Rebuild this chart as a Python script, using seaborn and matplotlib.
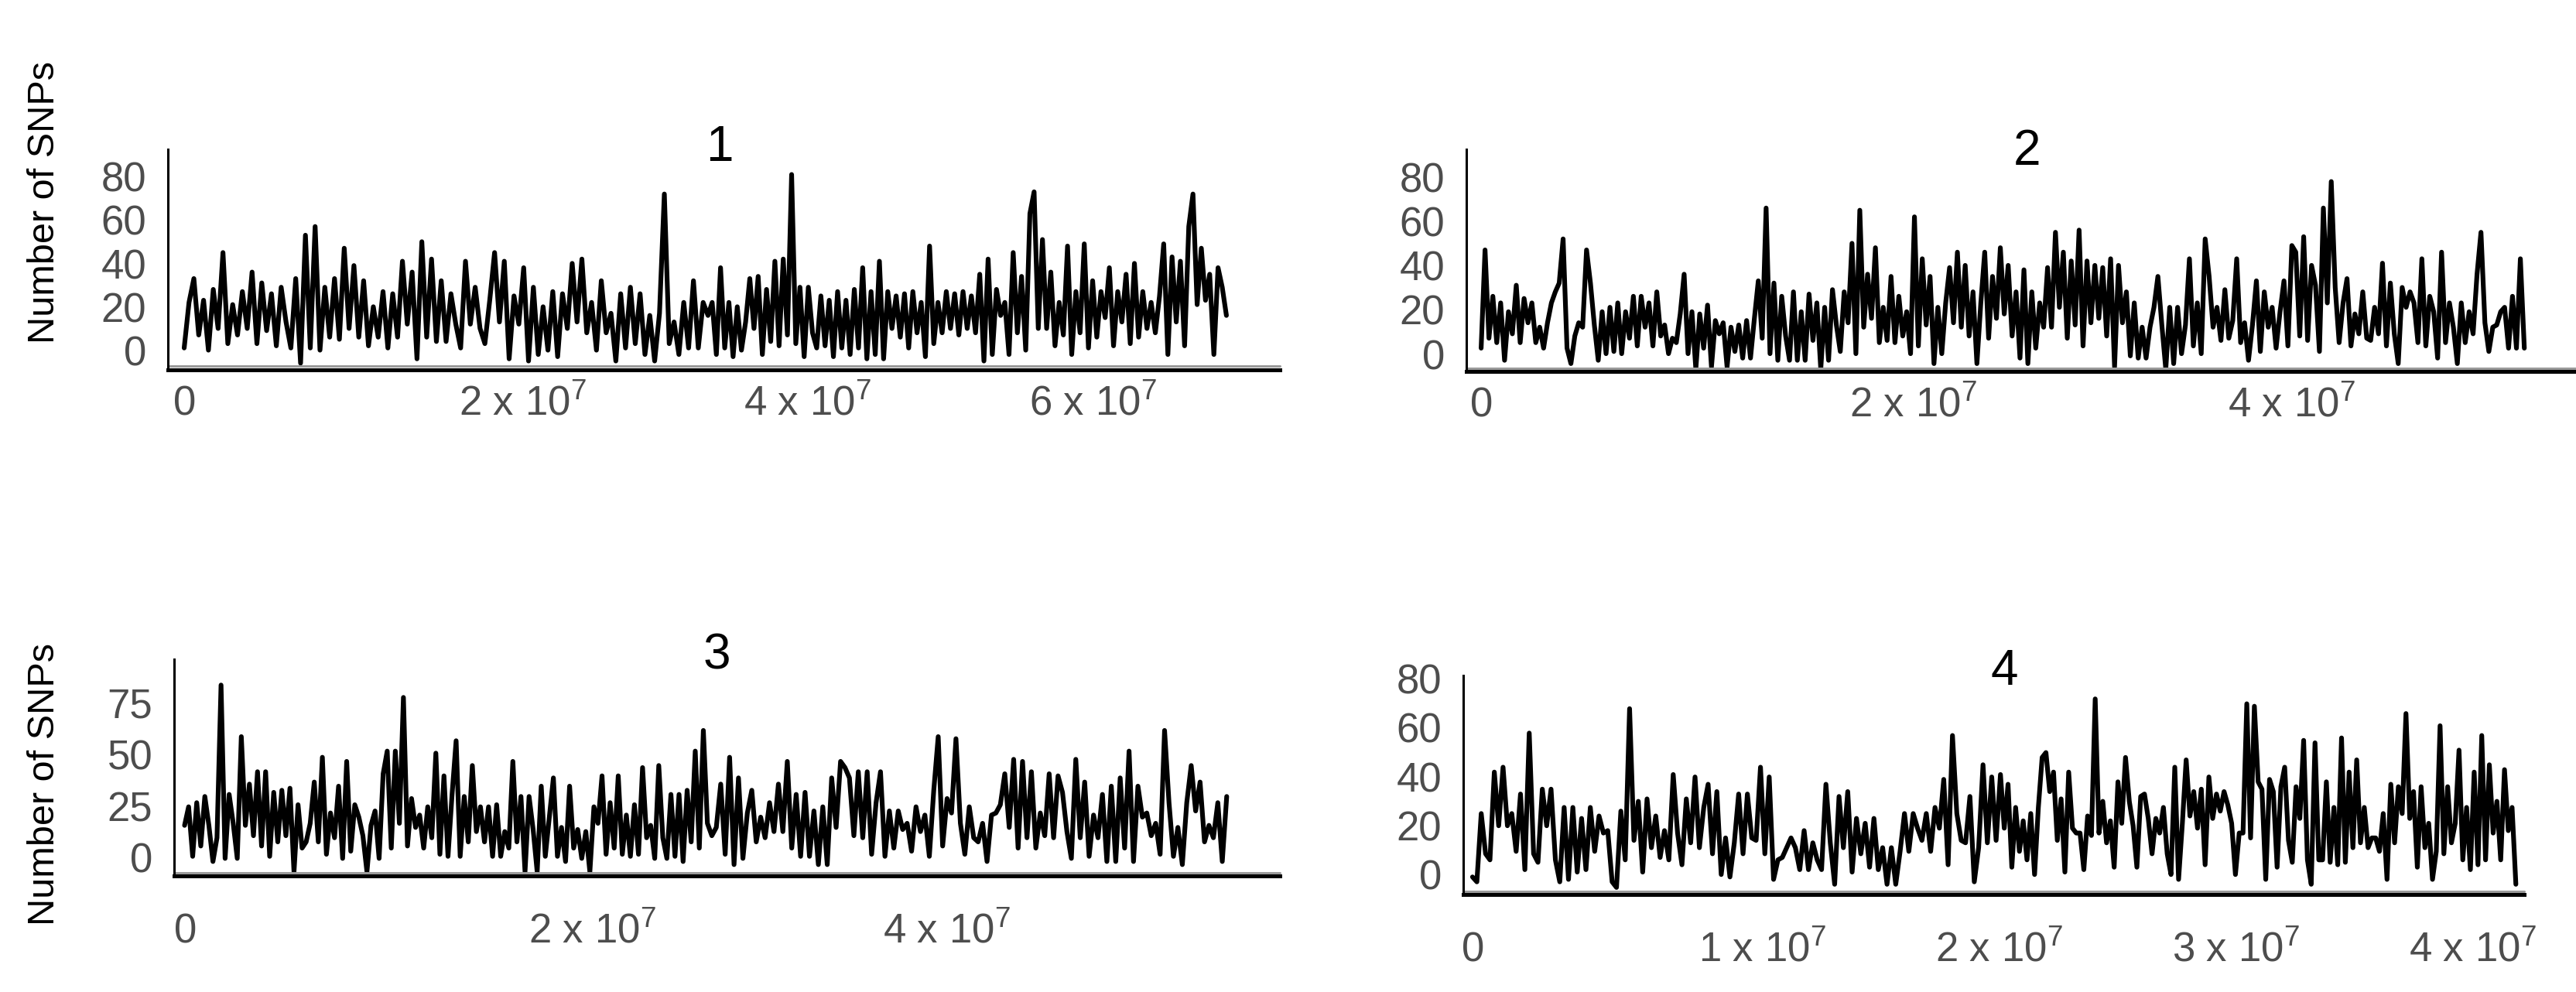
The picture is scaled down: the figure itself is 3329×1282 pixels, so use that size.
import numpy as np
import pandas as pd
import seaborn as sns
import matplotlib.pyplot as plt
from matplotlib.lines import Line2D
from matplotlib.transforms import ScaledTranslation

# SNP counts per window; each chromosome in two halves
chr1_snps_a = [8, 29, 40, 14, 30, 7, 35, 17, 52, 10, 28, 14, 34, 17, 43, 10, 38, 16, 33, 9, 36, 20, 8, 40, 1, 60, 8, 64,
               7, 36, 13, 40, 12, 54, 17, 46, 13, 39, 9, 27, 13, 34, 8, 33, 13, 48, 19, 43, 3, 57,
               13, 49, 11, 39, 11, 33, 19, 8, 48, 19, 36, 17, 10, 30, 52, 20, 48, 3, 32, 19, 45, 2, 36, 5, 27, 7, 34,
               4, 33, 17, 47, 20, 49, 15, 29, 7, 39, 15, 24, 2, 33, 8, 36, 10, 33, 5, 23, 2, 24, 79, 10, 20, 5, 29,
               8, 39, 8, 29]
chr1_snps_b = [23, 29, 5, 45, 8, 29, 4, 27, 7, 20, 40, 17, 41, 5, 35, 11, 48, 9, 49, 14, 88, 10, 36, 4, 36, 15, 8, 32,
               9, 30, 4, 34, 8, 30, 5, 35, 8, 45, 3, 34, 5, 48, 3, 34, 17, 32, 13, 33, 8, 34, 15, 29, 4, 55, 10, 29,
               15, 34, 17, 33, 14, 34, 17, 32, 15, 42, 2, 49, 5, 35, 23, 29, 5, 52, 15, 41, 7, 70, 80, 17, 58, 17,
               43, 9, 29, 14, 55, 5, 34, 15, 56, 8, 39, 13, 34, 22, 45, 9, 34, 20, 42, 10, 47, 13, 34, 17, 29, 15,
               32, 56, 5, 50, 20, 48, 9, 64, 79, 28, 54, 30, 42, 5, 45, 36, 23]

chr2_snps_a = [9.5, 54, 14, 33, 12, 30, 4, 26, 16, 38, 12, 32, 21, 30, 12, 19, 9.5, 21, 30, 35, 39, 59, 9.5, 2.5, 15,
               21, 19, 54, 39, 20, 4, 26, 7, 28, 8, 30, 7, 26, 14, 33, 10.5, 33, 19, 30, 10.5, 35, 15, 20, 7, 14, 12,
               25, 43, 7, 26, 0, 25, 9.5, 29, 1, 22, 16, 21, 1, 19, 8, 20, 5, 22, 5, 23, 40, 14, 73, 7, 39, 4, 33, 15,
               4, 35, 4, 26, 4, 34, 13, 30, 0, 28, 4, 36, 20, 8, 35, 21, 57, 7, 72, 19, 43, 23, 55, 12, 28, 13, 42,
               12, 33, 15, 26, 7, 69, 10.5, 50, 20, 42, 2.5, 28, 7, 30, 46, 21, 53, 19, 47, 15, 35, 2.5, 30, 53, 14,
               42, 23, 55]
chr2_snps_b = [25, 47, 15, 35, 5, 45, 2.5, 35, 9.5, 30, 19, 46, 19, 62, 28, 53, 14, 49, 20, 63, 10.5, 49, 21, 47, 23,
               46, 15, 50, 1, 47, 21, 35, 6, 30, 5, 19, 5, 19, 28, 42, 20, 0, 28, 2.5, 28, 7, 20, 50, 10.5, 30, 7, 59,
               42, 19, 28, 13, 36, 14, 22, 50, 12, 21, 4, 20, 40, 8, 35, 19, 28, 9.5, 26, 40, 10.5, 56, 53, 15, 60,
               13, 47, 38, 8, 73, 30, 85, 37, 12, 30, 41, 10.5, 25, 16, 35, 14, 13, 28, 16, 48, 10.5, 39, 16, 2.5, 37,
               28, 35, 30, 12, 50, 10.5, 33, 26, 5, 53, 12, 30, 19, 2.5, 30, 12, 26, 16, 43, 62, 21, 8, 19, 20, 26,
               28, 9.5, 33, 9.5, 50, 9.5]

chr3_snps_a = [23, 32, 8, 34, 13, 37, 23, 5.5, 17, 91, 7, 38, 24, 7, 66, 23, 43, 18, 49, 13, 49, 8, 39, 15, 40, 18, 41,
               0.5, 33, 12, 15, 24, 44, 15, 56, 9, 29, 17, 42, 7, 54, 10.5, 33, 27, 18, 0.5, 23, 30, 7, 48, 59, 12,
               59, 24, 85, 13, 36, 22, 28, 12, 32, 17, 58, 9, 47, 8, 38, 64, 8, 37, 15, 52, 20, 32, 15, 32, 8, 33, 8,
               20, 12, 54, 15, 37, 0.5, 37, 21, 0.5, 42, 8, 27, 46, 8, 22, 5.5, 42, 12, 21, 7, 20, 0.5, 32, 24, 47, 9,
               34, 12, 47, 9, 28, 8, 33, 9, 51, 17, 23, 7, 52, 17, 7, 38, 8, 38, 5.5, 40, 15, 59, 12, 69]
chr3_snps_b = [24, 18, 22, 43, 9, 56, 4, 46, 7, 29, 40, 15, 27, 17, 34, 20, 43, 20, 54, 12, 38, 8, 39, 8, 30, 4, 32, 4,
               46, 22, 54, 51, 46, 18, 49, 17, 49, 9, 34, 49, 8, 30, 12, 30, 21, 24, 10.5, 32, 20, 28, 8, 40, 66, 13,
               36, 29, 65, 24, 9, 32, 17, 15, 24, 5.5, 28, 29, 33, 48, 22, 55, 12, 54, 17, 49, 12, 29, 18, 48, 17, 47,
               39, 20, 7, 55, 17, 44, 8, 28, 17, 38, 5.5, 42, 5.5, 46, 12, 59, 5.5, 42, 27, 29, 18, 24, 9, 69, 34, 8,
               22, 4, 34, 52, 30, 44, 15, 23, 17, 34, 5.5, 37]

chr4_snps_a = [5, 3, 31, 14.5, 12, 48, 26, 50, 26, 31, 15.5, 39, 8, 64, 14.5, 11, 41, 26, 41, 12, 3, 33.5, 4, 33.5, 7,
               29, 8, 33.5, 15.5, 30, 23, 24, 3, 0.7, 32, 12, 74, 20, 36, 7, 37, 17, 30, 13, 24, 12, 47, 23, 10, 37,
               19, 46, 17, 33.5, 43, 14.5, 40, 6, 21, 5, 19, 39, 14.5, 39, 21, 20, 50, 14.5, 46, 4, 12, 13, 17, 21, 17,
               8, 24, 8, 19, 12, 8, 43, 19, 2, 38, 17, 40, 7, 29, 14.5, 27, 9, 29, 8, 17, 2, 17, 2, 15.5, 31, 15.5, 31,
               25, 20, 31, 15.5, 33.5, 25, 45, 10, 63, 31, 20, 19, 38, 3, 17, 51, 19, 46, 20]
chr4_snps_b = [47, 25, 43, 9, 33.5, 15.5, 28, 12, 31, 6, 33.5, 54, 56, 40, 48, 20, 37, 7, 48, 25, 23, 23, 8, 30, 22, 78,
               23, 36, 19, 28, 9, 44, 27, 54, 36, 26, 9, 38, 39, 29, 14.5, 29, 23, 33.5, 14.5, 6, 50, 4, 27, 53, 30,
               40, 25, 41, 10, 46, 29, 39, 32, 40, 34.5, 27, 6, 23, 23, 76, 21, 75, 44, 41, 4, 45, 40, 9, 42, 50, 20,
               11, 42, 29, 61, 12, 2, 60, 12, 12, 44, 11, 33.5, 10, 62, 11, 48, 17, 53, 19, 33.5, 17, 21, 21, 15.5,
               31, 4, 43, 19, 42, 31, 72, 29, 40, 9, 42, 17, 27, 4, 15.5, 67, 14.5, 42, 19, 27, 57, 12, 33.5, 8, 48,
               10, 63, 12, 51, 23, 36, 12, 49, 24, 33.5, 2]

# start of first half, start of second half, last window (bp)
chr1_bounds = (0, 3.674e7, 7.31e7)
chr2_bounds = (0, 2.762e7, 5.508e7)
chr3_bounds = (0, 2.95e7, 5.88e7)
chr4_bounds = (0, 2.229e7, 4.405e7)

chrom_names = ["1", "2", "3", "4"]

chr1_xticks = [0, 2e7, 4e7, 6e7]
chr1_xlabels = ["0", r"2 x 10$^{7}$", r"4 x 10$^{7}$", r"6 x 10$^{7}$"]
chr2_xticks = [0, 2e7, 4e7]
chr2_xlabels = ["0", r"2 x 10$^{7}$", r"4 x 10$^{7}$"]
chr3_xticks = [0, 2e7, 4e7, 6e7]
chr3_xlabels = ["0", r"2 x 10$^{7}$", r"4 x 10$^{7}$", ""]
chr4_xticks = [0, 1e7, 2e7, 3e7, 4e7]
chr4_xlabels = ["0", r"1 x 10$^{7}$", r"2 x 10$^{7}$", r"3 x 10$^{7}$", r"4 x 10$^{7}$"]

yticks_80 = [0, 20, 40, 60, 80]
yticks_75 = [0, 25, 50, 75]

W, H = 3330, 1282


def _windows(a, b, bounds):
    start, mid, end = bounds
    pos = np.concatenate([np.linspace(start, mid, len(a), endpoint=False),
                          np.linspace(mid, end, len(b))])
    return pd.DataFrame({"pos": pos, "snps": np.concatenate([a, b]).astype(float)})


def _rect(left, right, top, bottom):
    # pixel box (top-origin) -> figure fraction
    return [left / W, 1 - bottom / H, (right - left) / W, (bottom - top) / H]


sns.set_theme(style="white")
plt.rcParams["font.family"] = ["Liberation Sans", "DejaVu Sans"]
plt.rcParams["mathtext.fontset"] = "custom"
plt.rcParams["mathtext.rm"] = "Liberation Sans"
plt.rcParams["mathtext.default"] = "regular"

panels = [
    dict(df=_windows(chr1_snps_a, chr1_snps_b, chr1_bounds), rect=_rect(217, 1654, 193, 478),
         xlim=(-0.114e7, 7.685e7), ylim=(-2.1, 99.6), xt=chr1_xticks, xl=chr1_xlabels, yt=yticks_80,
         title_xy=(0.496, 0.947), xpad=11),
    dict(df=_windows(chr2_snps_a, chr2_snps_b, chr2_bounds), rect=_rect(1895, 3330, 193, 480),
         xlim=(-0.078e7, 5.785e7), ylim=(-1.05, 99.6), xt=chr2_xticks, xl=chr2_xlabels, yt=yticks_80,
         title_xy=(0.505, 0.93), xpad=11),
    dict(df=_windows(chr3_snps_a, chr3_snps_b, chr3_bounds), rect=_rect(225, 1654, 852, 1132),
         xlim=(-0.059e7, 6.18e7), ylim=(-1.5, 103.5), xt=chr3_xticks, xl=chr3_xlabels, yt=yticks_75,
         title_xy=(0.491, 0.954), xpad=31),
    dict(df=_windows(chr4_snps_a, chr4_snps_b, chr4_bounds), rect=_rect(1891, 3262, 873, 1156),
         xlim=(-0.039e7, 4.44e7), ylim=(-2.2, 87.6), xt=chr4_xticks, xl=chr4_xlabels, yt=yticks_80,
         title_xy=(0.51, 0.958), xpad=31),
]

fig = plt.figure(figsize=(W / 100, H / 100), dpi=100)
tick_grey = "#4d4d4d"

for name, p in zip(chrom_names, panels):
    ax = fig.add_axes(p["rect"])
    sns.lineplot(data=p["df"], x="pos", y="snps", ax=ax, color="black",
                 linewidth=4.4, estimator=None)
    ax.set_xlim(*p["xlim"])
    ax.set_ylim(*p["ylim"])
    ax.set_xlabel("")
    ax.set_ylabel("")

    ax.set_xticks(p["xt"])
    ax.set_xticklabels(p["xl"])
    ax.set_yticks(p["yt"])
    ax.set_yticklabels([str(v) for v in p["yt"]])
    ax.tick_params(axis="x", length=3, width=1.5, color="#333333", pad=p["xpad"],
                   labelsize=38, labelcolor=tick_grey)
    ax.tick_params(axis="y", length=3, width=1.5, color="#333333", pad=17,
                   labelsize=38, labelcolor=tick_grey)
    # labels sit a bit left of / above their ticks in the original
    shift_x = ScaledTranslation(-14 / 100, 0, fig.dpi_scale_trans)
    for lab in ax.get_xticklabels():
        lab.set_horizontalalignment("left")
        lab.set_transform(lab.get_transform() + shift_x)
    for lab in ax.get_yticklabels():
        lab.set_verticalalignment("baseline")

    for side in ["top", "right"]:
        ax.spines[side].set_visible(False)
    ax.spines["left"].set_linewidth(2.2)
    ax.spines["left"].set_color("black")
    ax.spines["bottom"].set_linewidth(3.6)
    ax.spines["bottom"].set_color("black")
    ax.add_line(Line2D([0, 1], [0, 0], color="#9a9a9a", lw=2.2, clip_on=False,
                       transform=ax.transAxes + ScaledTranslation(0, 4.5 / 100, fig.dpi_scale_trans)))

    ax.text(p["title_xy"][0], p["title_xy"][1], name, transform=ax.transAxes,
            ha="center", va="baseline", fontsize=46, color="black")

fig.text(58 / W, 1 - 261 / H, "Number of SNPs", rotation=90, ha="center", va="center",
         fontsize=35, color="black")
fig.text(58 / W, 1 - 1014 / H, "Number of SNPs", rotation=90, ha="center", va="center",
         fontsize=35, color="black")

fig.savefig("out.png", dpi=100)
plt.close(fig)
